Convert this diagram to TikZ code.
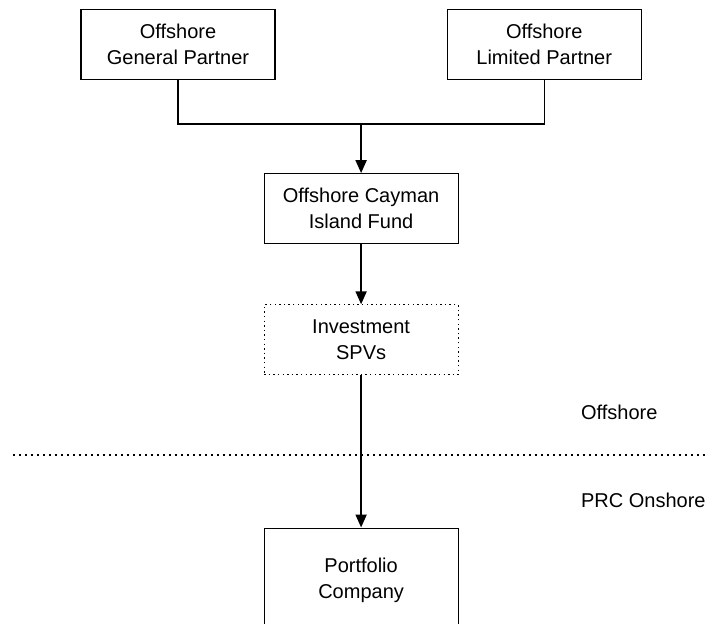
\documentclass[tikz,border=0pt]{standalone}
\usepackage{fontspec}
\setmainfont{Liberation Sans}
\usepackage{tikz}
\usetikzlibrary{arrows.meta, positioning, calc}

\begin{document}
\begin{tikzpicture}[
  box/.style={
    rectangle, draw, line width=0.6pt,
    minimum width=97pt, minimum height=35pt,
    text centered, align=center,
    font=\fontsize{10}{13}\selectfont
  },
  spvbox/.style={box, dash pattern=on 0.7pt off 1.6pt},
  zone/.style={anchor=west, font=\fontsize{10}{13}\selectfont},
  arrow/.style={-{Triangle[length=6.5pt,width=5.5pt]}, line width=1pt},
  joinline/.style={line width=0.6pt},
  divider/.style={line width=0.8pt, dash pattern=on 1pt off 2pt}
]
  \useasboundingbox (0,0) rectangle (353pt,-312pt);

  \node[box] (gp) at (89pt,-22.25pt) {Offshore\\General Partner};
  \node[box, right=85.5pt of gp] (lp) {Offshore\\Limited Partner};
  \coordinate (join) at ($(gp.south)!0.5!(lp.south) + (0,-22pt)$);
  \node[box, below=24.5pt of join] (fund) {Offshore Cayman\\Island Fund};
  \node[spvbox, below=30pt of fund] (spv) {Investment\\SPVs};
  \node[box, minimum height=52pt, below=76pt of spv] (port) {Portfolio\\Company};

  % offshore / onshore split
  \coordinate (divl) at (6.5pt,-227.5pt);
  \coordinate (divr) at (353pt,-227.5pt);
  \draw[divider] (divl) -- (divr);
  \node[zone] (offlbl) at (287pt,-206pt) {Offshore};
  \node[zone] (onlbl) at (287pt,-250pt) {PRC Onshore};

  \draw[joinline] (gp.south) |- (join) -| (lp.south);
  \draw[arrow] (join) -- (fund);
  \draw[arrow] (fund) -- (spv);
  \draw[arrow] (spv) -- (port);
\end{tikzpicture}
\end{document}
